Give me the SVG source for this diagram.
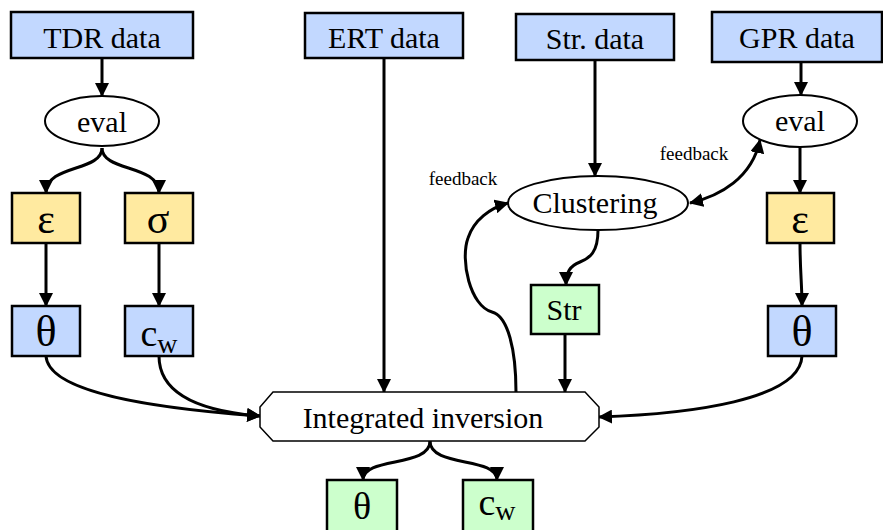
<svg xmlns="http://www.w3.org/2000/svg" width="883" height="530" viewBox="0 0 883 530">
<defs>
<marker id="ah" markerWidth="14" markerHeight="14" viewBox="0 0 14 14" refX="13" refY="7" orient="auto" markerUnits="userSpaceOnUse">
<path d="M0,0 L14,7 L0,14 Z" fill="#000"/>
</marker>
<marker id="ahs" markerWidth="14" markerHeight="14" viewBox="0 0 14 14" refX="1" refY="7" orient="auto" markerUnits="userSpaceOnUse">
<path d="M14,0 L0,7 L14,14 Z" fill="#000"/>
</marker>
</defs>
<style>
text{font-family:"Liberation Serif","Times New Roman",serif;fill:#000;text-anchor:middle}
.t{font-size:30px}
.g{font-size:42px}
.th{font-size:44px}
.c{font-size:38px}
.w{font-size:28px}
.fb{font-size:19px}
.blue{fill:#c2d8ff;stroke:#000;stroke-width:2.5}
.yel{fill:#ffeaa0;stroke:#000;stroke-width:2.5}
.grn{fill:#ccffcc;stroke:#000;stroke-width:2.5}
.ell{fill:#fff;stroke:#000;stroke-width:2}
.oct{fill:#fff;stroke:#000;stroke-width:1.5}
.e{fill:none;stroke:#000;stroke-width:3;marker-end:url(#ah)}
</style>
<g id="connectors">
<path class="e" d="M102,58 L102,96"/>
<path class="e" d="M102,148 C102,172 46,164 46,193"/>
<path class="e" d="M102,148 C102,172 159,164 159,193"/>
<path class="e" d="M46,243 L46,306"/>
<path class="e" d="M159,243 L159,306"/>
<path class="e" d="M46,356 C48,392 150,408 260,416"/>
<path class="e" d="M159,356 C159,398 210,412 260,416"/>
<path class="e" d="M384,58 L384,392"/>
<path class="e" d="M595,60 L595,176"/>
<path class="e" d="M598,230 C598,252 590,258 580,262 C570,266 566,272 566,285"/>
<path class="e" d="M565,334 L565,392"/>
<path class="e" d="M516,392 C516,350 508,316 492,312 C470,306 460,260 468,238 C474,220 490,208 508,203"/>
<path class="e" style="marker-start:url(#ahs)" d="M690,203 C720,196 752,178 760,140"/>
<path class="e" d="M801,62 L801,95"/>
<path class="e" d="M800,147 L800,193"/>
<path class="e" d="M800,243 C800,270 802,285 802,306"/>
<path class="e" d="M802,356 C800,400 690,414 599,417"/>
<path class="e" d="M430,441 C430,468 363,456 363,480"/>
<path class="e" d="M430,441 C430,468 497,456 497,480"/>
</g>
<g id="tdr_data"><rect class="blue" x="11" y="12" width="182" height="46"/><text class="t" x="102" y="48">TDR data</text></g>
<g id="ert_data"><rect class="blue" x="305" y="13" width="158" height="45"/><text class="t" x="384" y="48">ERT data</text></g>
<g id="str_data"><rect class="blue" x="516" y="14" width="158" height="46"/><text class="t" x="595" y="49">Str. data</text></g>
<g id="gpr_data"><rect class="blue" x="712" y="12" width="170" height="50"/><text class="t" x="797" y="48">GPR data</text></g>
<g id="tdr_eval"><ellipse class="ell" cx="102" cy="121" rx="57" ry="25"/><text class="t" x="102" y="132">eval</text></g>
<g id="gpr_eval"><ellipse class="ell" cx="800" cy="121" rx="57" ry="26"/><text class="t" x="800" y="131">eval</text></g>
<g id="clustering"><ellipse class="ell" cx="598" cy="203" rx="90" ry="27"/><text class="t" x="595" y="213">Clustering</text></g>
<g id="tdr_eps"><rect class="yel" x="12" y="193" width="68" height="50"/><text class="g" x="46" y="233">ε</text></g>
<g id="tdr_sigma"><rect class="yel" x="125" y="193" width="68" height="50"/><text class="g" x="158" y="233">σ</text></g>
<g id="tdr_theta"><rect class="blue" x="12" y="306" width="68" height="50"/><text class="th" x="46" y="346">θ</text></g>
<g id="tdr_cw"><rect class="blue" x="125" y="306" width="68" height="50"/><text x="159" y="346"><tspan class="c">c</tspan><tspan class="w" dy="7">w</tspan></text></g>
<g id="gpr_eps"><rect class="yel" x="767" y="193" width="67" height="50"/><text class="g" x="800" y="233">ε</text></g>
<g id="gpr_theta"><rect class="blue" x="768" y="306" width="68" height="50"/><text class="th" x="802" y="346">θ</text></g>
<g id="str"><rect class="grn" x="531" y="285" width="68" height="49"/><text class="t" x="564" y="320">Str</text></g>
<g id="integrated_inversion"><polygon class="oct" points="273,392 585,392 599,407 599,427 585,441 273,441 260,427 260,407"/><text class="t" x="423" y="428">Integrated inversion</text></g>
<g id="out_theta"><rect class="grn" x="327" y="480" width="70" height="54"/><text class="c" x="362" y="519">θ</text></g>
<g id="out_cw"><rect class="grn" x="463" y="480" width="70" height="54"/><text x="497" y="515"><tspan class="c">c</tspan><tspan class="w" dy="5">w</tspan></text></g>
<g id="labels"><text class="fb" x="463" y="185">feedback</text><text class="fb" x="694" y="160">feedback</text></g>
</svg>
